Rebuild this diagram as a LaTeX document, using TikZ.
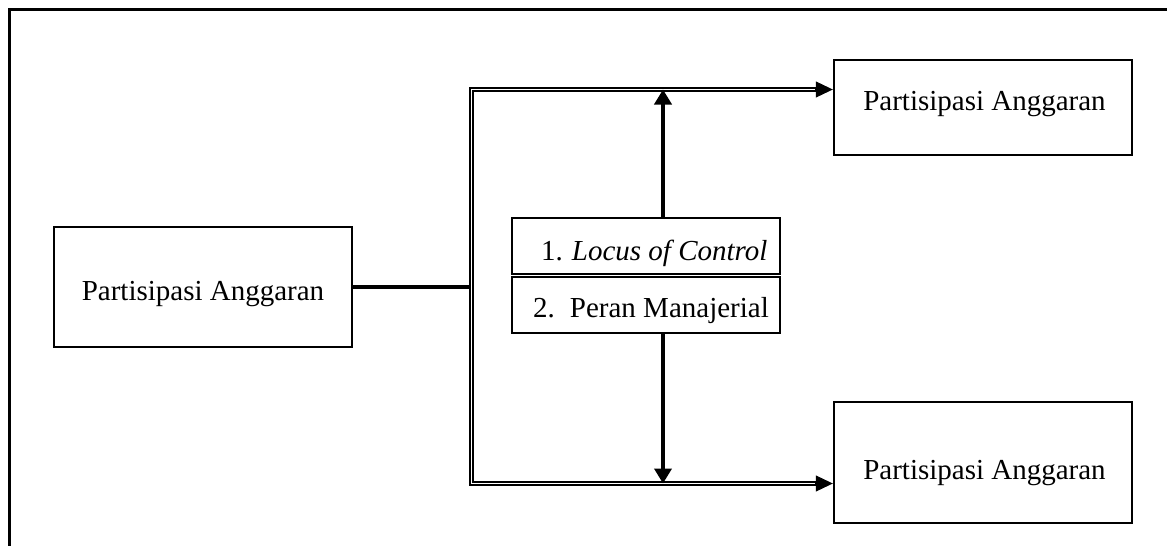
\documentclass[tikz,border=0pt]{standalone}
\usepackage{fontspec}
\setmainfont{Liberation Serif}
\usetikzlibrary{arrows.meta,calc}
\begin{document}
\begin{tikzpicture}[x=1pt,y=-1pt,
  box/.style={draw, line width=2.4pt, inner sep=0pt},
  lbl/.style={font=\fontsize{29}{34}\selectfont, inner sep=0pt},
  thickln/.style={line width=4.5pt},
  dbl/.style={draw=black, double=white, double distance=0.9pt, line width=1.8pt},
  htip/.style={line width=1pt, -{Triangle[length=17pt,width=16pt]}},
  vtip/.style={-{Triangle[length=15pt,width=17pt]}}]
\useasboundingbox (0,0) rectangle (1167,546);

% outer frame (top and left edges)
\draw[line width=2.8pt] (9.5,560) -- (9.5,9.5) -- (1180,9.5);

% boxes
\node[box, minimum width=298pt, minimum height=120pt] (src) at (203,287) {};
\node[box, minimum width=298pt, minimum height=95pt] (tr) at (983,107.5) {};
\node[box, minimum width=298pt, minimum height=121pt] (br) at (983,462.5) {};
\node[box, line width=2.2pt, minimum width=268pt, minimum height=115pt] (mid) at (646,275.5) {};
\draw[dbl] (mid.west) -- (mid.east);

% labels
\node[lbl, anchor=base] (srct) at (203,300) {Partisipasi Anggaran};
\node[lbl, anchor=base] (trt) at (984.5,110) {Partisipasi Anggaran};
\node[lbl, anchor=base] (brt) at (984.5,479) {Partisipasi Anggaran};
\node[lbl, anchor=base west] (m1) at (541,260) {1.\hspace{9pt}\textit{Locus of Control}};
\node[lbl, anchor=base west] (m2) at (533,317) {2.\hspace{15pt}Peran Manajerial};

% junction points
\coordinate (J) at (471.5,287);
\coordinate (JT) at (471.5,89.5);
\coordinate (JB) at (471.5,483.5);
\coordinate (V) at (663,0);

% connectors
\draw[thickln] (src.east) -- (J);
\draw[dbl, shorten <=16pt, shorten >=16pt] (JT -| tr.west) -- (JT) -- (JB) -- (JB -| br.west);
\draw[htip] ($(JT -| tr.west)+(-18,0)$) -- (JT -| tr.west);
\draw[htip] ($(JB -| br.west)+(-18,0)$) -- (JB -| br.west);
\draw[thickln, vtip] (V |- mid.north) -- (V |- JT);
\draw[thickln, vtip] (V |- mid.south) -- (V |- JB);
\end{tikzpicture}
\end{document}
